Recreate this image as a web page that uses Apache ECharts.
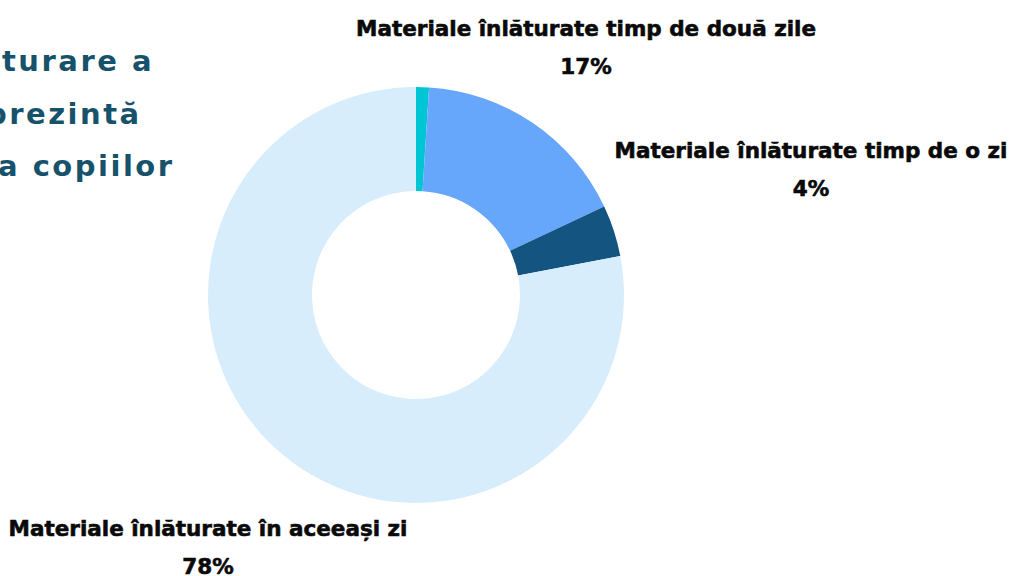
<!DOCTYPE html>
<html><head><meta charset="utf-8">
<script src="https://cdn.jsdelivr.net/npm/echarts@6/dist/echarts.min.js"></script>
<style>html,body{margin:0;padding:0;background:#fff}#c{width:1010px;height:576px}
#c text[fill="#17526b"]{letter-spacing:2.5px}</style>
</head><body><div id="c"></div>
<script>
const categories = ['Altele', 'Materiale înlăturate timp de două zile', 'Materiale înlăturate timp de o zi', 'Materiale înlăturate în aceeași zi'];
const values = [1, 17, 4, 78];
const colors = ['#00c5d5', '#66a6fb', '#135480', '#d7edfc'];
const titleLines = ['turare a', 'prezintă', 'a copiilor'];
const labelSpots = [null, [586, 47], [811, 169], [208, 547]];

const chart = echarts.init(document.getElementById('c'), null, { renderer: 'svg' });
chart.setOption({
  animation: false,
  graphic: titleLines.map((t, i) => ({
    type: 'text', left: [2, -14, -2][i], top: [46, 99, 151][i],
    style: { text: t, fill: '#17526b', font: 'bold 29px "DejaVu Sans"' }
  })),
  series: [{
    type: 'pie',
    center: [416, 295],
    radius: [104, 208],
    startAngle: 90,
    clockwise: true,
    data: categories.map((n, i) => ({
      name: n, value: values[i], itemStyle: { color: colors[i] },
      label: { show: i !== 0 }
    })),
    label: {
      formatter: '{b}\n{c}%',
      fontFamily: 'DejaVu Sans', fontWeight: 'bold', fontSize: 21.5, color: '#0a0a0a',
      textBorderColor: '#0a0a0a', textBorderWidth: 0.6,
      lineHeight: 38, align: 'center', overflow: 'none'
    },
    labelLine: { show: false },
    labelLayout: function (p) {
      const s = labelSpots[p.dataIndex];
      if (!s) return {};
      return { x: s[0], y: s[1], align: 'center', verticalAlign: 'middle' };
    }
  }]
});
</script></body></html>
